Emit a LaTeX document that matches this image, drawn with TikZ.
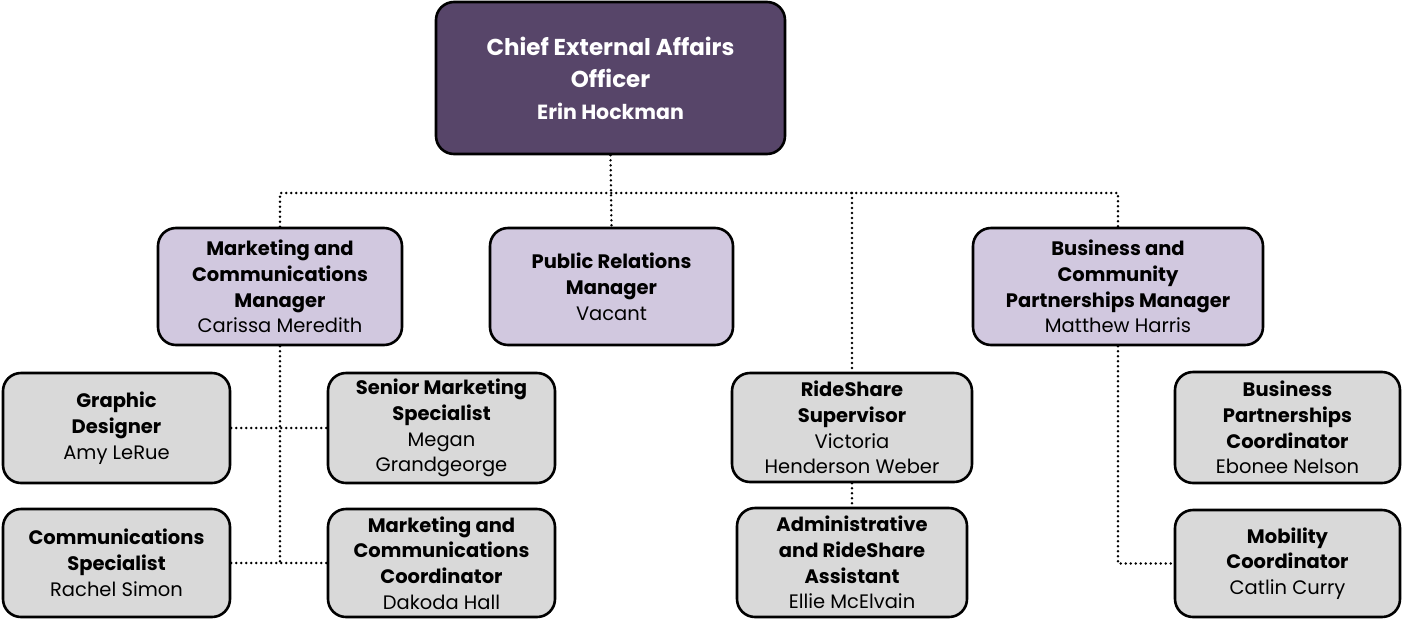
\documentclass[tikz,border=0pt]{standalone}
\usepackage{fontspec}
\setmainfont{Poppins}
\usetikzlibrary{calc}
\definecolor{topfill}{HTML}{574569}
\definecolor{mgrfill}{HTML}{D1C8DF}
\definecolor{greyfill}{HTML}{D9D9D9}
\begin{document}
\begin{tikzpicture}[x=1pt,y=-1pt,
  box/.style={draw=black, line width=2.6pt, rounded corners=18pt, align=center, inner sep=0pt,
    font=\fontsize{19.5}{25.8}\selectfont},
  topbox/.style={box, fill=topfill, text=white, minimum width=349pt, minimum height=152pt,
    font=\fontsize{23}{32}\selectfont\bfseries},
  mgrbox/.style={box, fill=mgrfill, minimum height=117pt},
  staffbox/.style={box, fill=greyfill},
  link/.style={line width=2.7pt, line cap=round, dash pattern=on 0pt off 5pt}]
\useasboundingbox (0,0) rectangle (1403,619);

\node[topbox] (ceo) at (610.5,78) {Chief External Affairs\\Officer\\{\fontsize{20.5}{28}\selectfont Erin Hockman}};

\node[mgrbox, minimum width=244pt] (mkt) at (280,286.5) {\textbf{Marketing and}\\\textbf{Communications}\\\textbf{Manager}\\Carissa Meredith};
\node[mgrbox, minimum width=243pt] (pr) at (611.5,286.5) {\textbf{Public Relations}\\\textbf{Manager}\\Vacant};
\node[mgrbox, minimum width=290pt] (bus) at (1118,286.5) {\textbf{Business and}\\\textbf{Community}\\\textbf{Partnerships Manager}\\Matthew Harris};

\node[staffbox, minimum width=227pt, minimum height=110pt] (gd) at (116.5,428) {\textbf{Graphic}\\\textbf{Designer}\\Amy LeRue};
\node[staffbox, minimum width=227pt, minimum height=110pt] (sms) at (441.5,428) {\textbf{Senior Marketing}\\\textbf{Specialist}\\Megan\\Grandgeorge};
\node[staffbox, minimum width=227pt, minimum height=108pt] (cs) at (116.5,563) {\textbf{Communications}\\\textbf{Specialist}\\Rachel Simon};
\node[staffbox, minimum width=227pt, minimum height=108pt] (mcc) at (441.5,563) {\textbf{Marketing and}\\\textbf{Communications}\\\textbf{Coordinator}\\Dakoda Hall};

\node[staffbox, minimum width=240pt, minimum height=109pt] (rs) at (852,427.5) {\textbf{RideShare}\\\textbf{Supervisor}\\Victoria\\Henderson Weber};
\node[staffbox, minimum width=230pt, minimum height=109pt] (ara) at (852,562.5) {\textbf{Administrative}\\\textbf{and RideShare}\\\textbf{Assistant}\\Ellie McElvain};

\node[staffbox, minimum width=225pt, minimum height=111pt] (bpc) at (1287.5,427.5) {\textbf{Business}\\\textbf{Partnerships}\\\textbf{Coordinator}\\Ebonee Nelson};
\node[staffbox, minimum width=225pt, minimum height=107pt] (mob) at (1287.5,563.5) {\textbf{Mobility}\\\textbf{Coordinator}\\Catlin Curry};

\coordinate (busline) at (610.5,193);

\draw[link] (ceo.south) -- (pr.north);
\draw[link] (mkt.north) -- (mkt.north |- busline) -- (bus.north |- busline) -- (bus.north);
\draw[link] (rs.north |- busline) -- (rs.north);
\draw[link] (mkt.south) -- (mkt.south |- mcc.west);
\draw[link] (gd.east) -- (sms.west);
\draw[link] (cs.east) -- (mcc.west);
\draw[link] (rs.south) -- (ara.north);
\draw[link] (bus.south) -- (bus.south |- mob.west) -- (mob.west);
\end{tikzpicture}
\end{document}
